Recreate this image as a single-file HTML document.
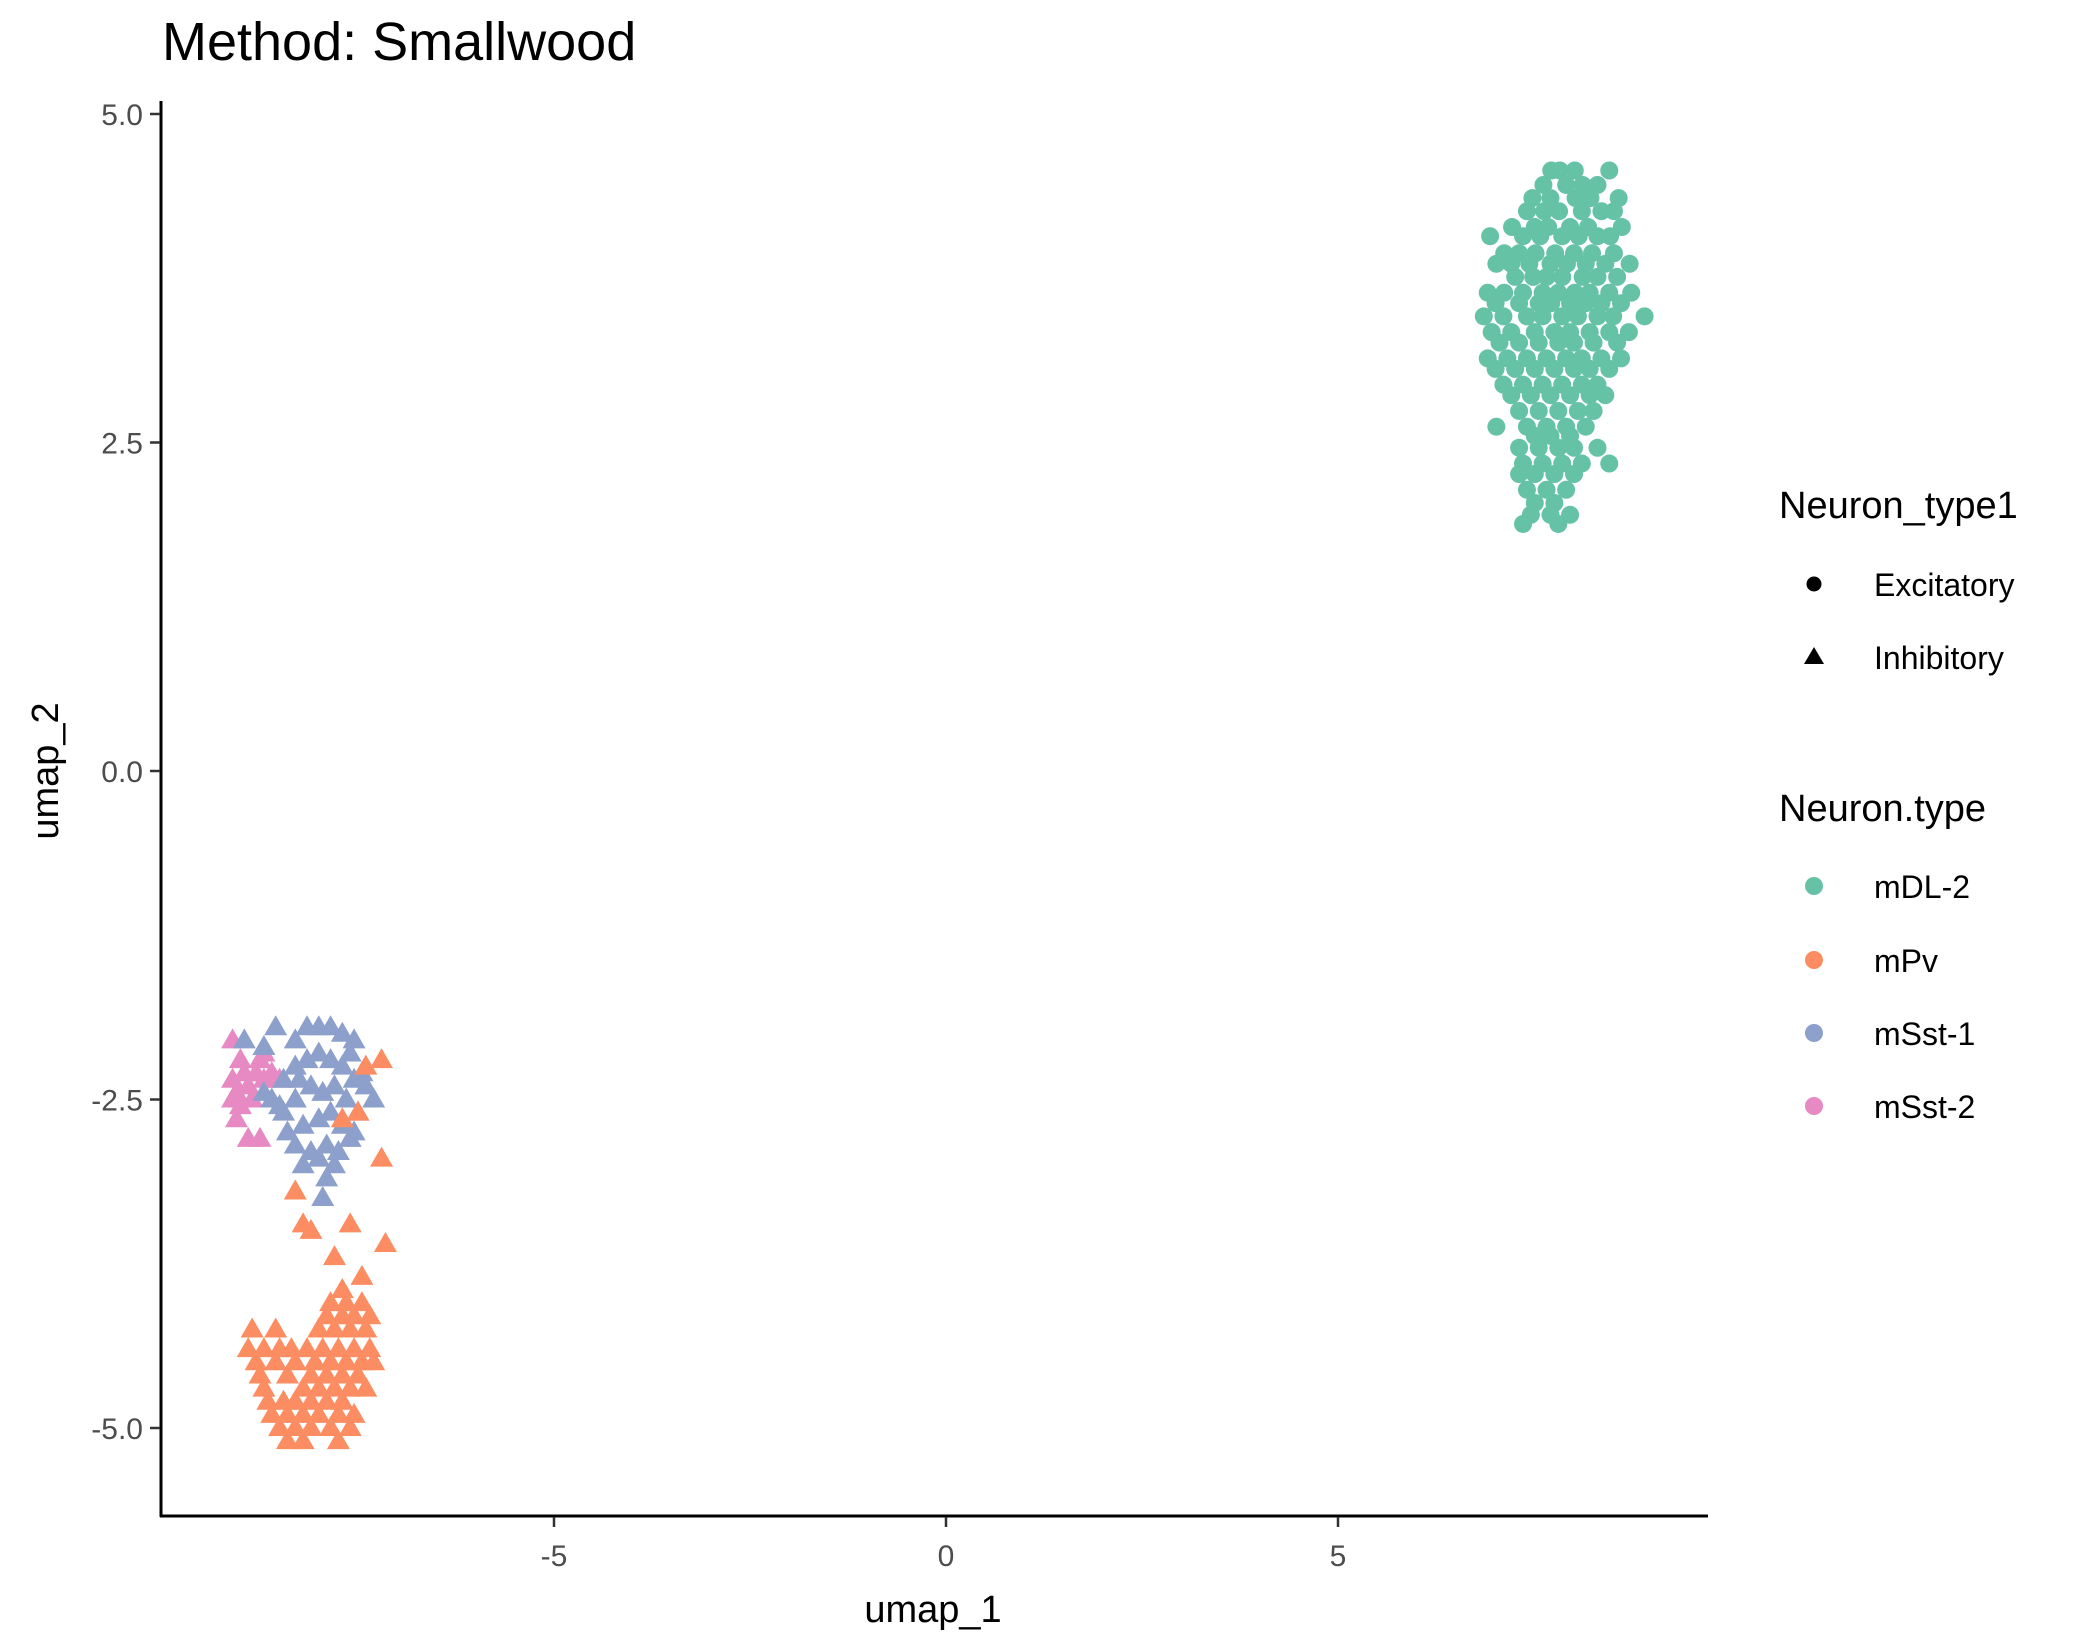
<!DOCTYPE html>
<html><head><meta charset="utf-8"><style>
html,body{margin:0;padding:0;background:#fff;}
svg{display:block;font-family:"Liberation Sans",Arial,sans-serif;}
</style></head><body>
<svg id="chart" width="2100" height="1650" viewBox="0 0 2100 1650">
<text x="162" y="60" font-size="54" fill="#000">Method: Smallwood</text>
<g id="marks"></g>
<line x1="161" y1="101" x2="161" y2="1517" stroke="#000" stroke-width="3"/>
<line x1="160" y1="1516" x2="1708" y2="1516" stroke="#000" stroke-width="3"/>
<g id="xticks"></g>
<g id="yticks"></g>
<text x="933" y="1622" font-size="38" text-anchor="middle">umap_1</text>
<text transform="translate(58,771) rotate(-90)" font-size="38" text-anchor="middle">umap_2</text>
<g>
<text x="1779" y="518" font-size="38">Neuron_type1</text>
<circle cx="1814" cy="584" r="7.5" fill="#000"/>
<text x="1874" y="596" font-size="32">Excitatory</text>
<polygon points="1814,647 1804,664 1824,664" fill="#000"/>
<text x="1874" y="669" font-size="32">Inhibitory</text>
</g>
<g>
<text x="1779" y="821" font-size="38">Neuron.type</text>
<circle cx="1814" cy="886" r="9" fill="#66C2A5"/>
<text x="1874" y="898" font-size="32">mDL-2</text>
<circle cx="1814" cy="960" r="9" fill="#FC8D62"/>
<text x="1874" y="972" font-size="32">mPv</text>
<circle cx="1814" cy="1033" r="9" fill="#8DA0CB"/>
<text x="1874" y="1045" font-size="32">mSst-1</text>
<circle cx="1814" cy="1106" r="9" fill="#E78AC3"/>
<text x="1874" y="1118" font-size="32">mSst-2</text>
</g>
</svg>
<script>
const xTicks = [-5, 0, 5];
const yTicks = [5.0, 2.5, 0.0, -2.5, -5.0];
const yTickLabels = ["5.0", "2.5", "0.0", "-2.5", "-5.0"];
const mdlRows = [
[4.57,[7.72,7.83,8.02,8.46]],[4.46,[7.62,7.91,8.12,8.31]],[4.36,[7.48,7.71,8.03,8.22,8.58]],
[4.26,[7.41,7.63,7.82,8.11,8.36,8.52]],[4.14,[7.22,7.51,7.68,7.96,8.19,8.62]],
[4.07,[6.94,7.36,7.58,7.86,8.07,8.31,8.47]],[3.94,[7.12,7.31,7.52,7.77,8.01,8.24,8.52]],
[3.86,[7.02,7.21,7.44,7.71,7.92,8.16,8.41,8.72]],[3.76,[7.26,7.49,7.66,7.86,8.12,8.31,8.56]],
[3.64,[6.91,7.12,7.36,7.61,7.81,8.02,8.21,8.46,8.74]],[3.56,[7.01,7.31,7.56,7.72,7.96,8.16,8.36,8.61]],
[3.46,[6.86,7.11,7.41,7.61,7.86,8.06,8.31,8.51,8.91]],[3.34,[6.96,7.21,7.51,7.76,7.96,8.21,8.46,8.71]],
[3.26,[7.06,7.31,7.56,7.81,8.01,8.26,8.56]],[3.14,[6.91,7.16,7.41,7.66,7.91,8.11,8.36,8.61]],
[3.06,[7.01,7.26,7.51,7.76,8.01,8.21,8.46]],[2.94,[7.11,7.36,7.61,7.86,8.11,8.31]],
[2.86,[7.21,7.46,7.71,7.96,8.21,8.41]],[2.74,[7.31,7.56,7.81,8.06,8.26]],[2.62,[7.02,7.41,7.66,7.91,8.16]],
[2.55,[7.51,7.71,7.96]],[2.46,[7.31,7.56,7.81,8.01,8.31]],[2.34,[7.36,7.61,7.86,8.11,8.46]],
[2.26,[7.31,7.51,7.76,8.01]],[2.14,[7.41,7.66,7.91]],[2.04,[7.51,7.76]],[1.95,[7.46,7.71,7.96]],[1.88,[7.36,7.81]]
];
const mPvX = [-7.4,-7.2,-7.5,-7.2,-7.7,-8.3,-8.1,-8.2,-7.6,-7.15,-7.8,-7.7,-7.45];
const mPvY = [-2.25,-2.2,-2.6,-2.95,-2.65,-3.2,-3.5,-3.45,-3.45,-3.6,-3.7,-3.95,-3.85];
const mPvRows = [
[-4.05,[-7.85,-7.65,-7.45]],[-4.15,[-7.9,-7.7,-7.55,-7.35]],[-4.25,[-8.85,-8.55,-8.0,-7.8,-7.6,-7.4]],
[-4.4,[-8.9,-8.7,-8.5,-8.35,-8.15,-7.95,-7.75,-7.55,-7.35]],[-4.5,[-8.8,-8.55,-8.3,-8.05,-7.85,-7.65,-7.45,-7.3]],
[-4.6,[-8.75,-8.4,-8.1,-7.9,-7.7,-7.5]],[-4.7,[-8.7,-8.2,-8.0,-7.8,-7.6,-7.4]],
[-4.8,[-8.65,-8.45,-8.3,-8.1,-7.9,-7.7]],[-4.9,[-8.6,-8.4,-8.2,-8.0,-7.75,-7.55]],
[-5.0,[-8.5,-8.3,-8.1,-7.85,-7.6]],[-5.1,[-8.4,-8.2,-7.75]]
];
const sst1X = [-8.95,-8.7,-8.55,-8.3,-8.15,-8.0,-7.85,-7.7,-7.55,-8.6,-8.45,-8.3,-8.15,-8.0,-7.85,-7.7,-7.55,-7.4,-7.3,-8.7,-8.5,-8.3,-8.1,-7.95,-7.8,-7.65,-7.5,-8.4,-8.2,-8.0,-7.85,-7.7,-7.55,-8.3,-8.1,-7.9,-7.75,-7.6,-8.2,-8.0,-7.8,-7.95,-7.9,-8.45,-8.25,-7.6,-7.45];
const sst1Y = [-2.05,-2.1,-1.95,-2.05,-1.95,-1.95,-1.95,-2.0,-2.05,-2.5,-2.35,-2.25,-2.2,-2.15,-2.2,-2.25,-2.35,-2.4,-2.5,-2.45,-2.55,-2.5,-2.4,-2.45,-2.4,-2.5,-2.6,-2.75,-2.7,-2.65,-2.6,-2.7,-2.75,-2.85,-2.9,-2.85,-2.9,-2.8,-3.0,-2.95,-3.0,-3.25,-3.1,-2.6,-2.35,-2.15,-2.3];
const sst2X = [-9.1,-9.0,-8.95,-9.1,-9.05,-8.9,-8.8,-8.75,-8.7,-9.0,-9.05,-8.9,-8.75,-8.6,-8.85,-9.1,-8.7,-8.5];
const sst2Y = [-2.05,-2.2,-2.3,-2.35,-2.45,-2.4,-2.3,-2.2,-2.35,-2.55,-2.65,-2.8,-2.8,-2.3,-2.5,-2.5,-2.15,-2.35];

const X = v => 946 + v * 78.4;
const Y = v => 771 - v * 131.4;
const NS = "http://www.w3.org/2000/svg";
const marks = document.getElementById('marks');

function circ(x, y, color) {
  const c = document.createElementNS(NS, 'circle');
  c.setAttribute('cx', X(x)); c.setAttribute('cy', Y(y)); c.setAttribute('r', 9);
  c.setAttribute('fill', color);
  
  
  marks.appendChild(c);
}
function tri(x, y, color, name) {
  const px = X(x), py = Y(y);
  const p = document.createElementNS(NS, 'polygon');
  p.setAttribute('points', `${px},${py-12} ${px-11.5},${py+8} ${px+11.5},${py+8}`);
  p.setAttribute('fill', color);
  
  
  marks.appendChild(p);
}
mdlRows.forEach(([y, xs]) => xs.forEach(x => circ(x, y, '#66C2A5')));
mPvRows.forEach(([y, xs]) => xs.forEach(x => tri(x, y, '#FC8D62', 'mpv-point')));
sst2X.forEach((x, i) => tri(x, sst2Y[i], '#E78AC3', 'msst2-point'));
sst1X.forEach((x, i) => tri(x, sst1Y[i], '#8DA0CB', 'msst1-point'));
mPvX.forEach((x, i) => tri(x, mPvY[i], '#FC8D62', 'mpv-point'));

const xg = document.getElementById('xticks');
xTicks.forEach(t => {
  const l = document.createElementNS(NS, 'line');
  l.setAttribute('x1', X(t)); l.setAttribute('x2', X(t)); l.setAttribute('y1', 1517); l.setAttribute('y2', 1527);
  l.setAttribute('stroke', '#333'); l.setAttribute('stroke-width', 2.5);
  
  
  xg.appendChild(l);
  const tx = document.createElementNS(NS, 'text');
  tx.setAttribute('x', X(t)); tx.setAttribute('y', 1566); tx.setAttribute('font-size', 30);
  tx.setAttribute('fill', '#4d4d4d'); tx.setAttribute('text-anchor', 'middle');
  tx.textContent = String(t);
  
  
  xg.appendChild(tx);
});
const yg = document.getElementById('yticks');
yTicks.forEach((t, i) => {
  const l = document.createElementNS(NS, 'line');
  l.setAttribute('x1', 150); l.setAttribute('x2', 160); l.setAttribute('y1', Y(t)); l.setAttribute('y2', Y(t));
  l.setAttribute('stroke', '#333'); l.setAttribute('stroke-width', 2.5);
  
  
  yg.appendChild(l);
  const tx = document.createElementNS(NS, 'text');
  tx.setAttribute('x', 143); tx.setAttribute('y', Y(t) + 11); tx.setAttribute('font-size', 30);
  tx.setAttribute('fill', '#4d4d4d'); tx.setAttribute('text-anchor', 'end');
  tx.textContent = yTickLabels[i];
  
  
  yg.appendChild(tx);
});
</script>
</body></html>
